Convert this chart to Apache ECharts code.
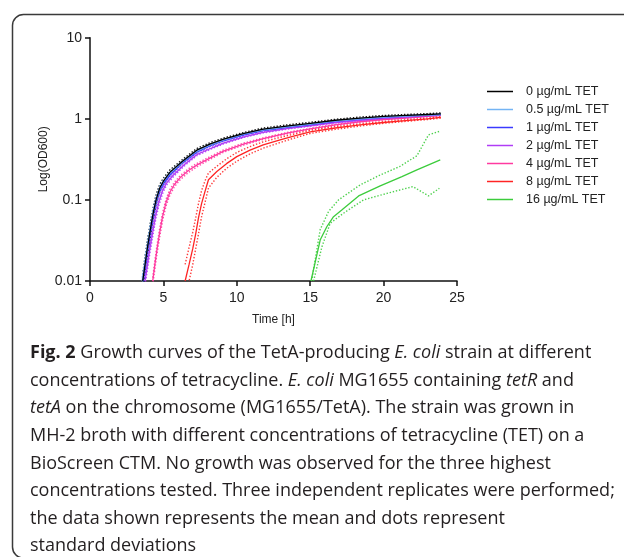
<!DOCTYPE html>
<html><head><meta charset="utf-8">
<script src="https://cdn.jsdelivr.net/npm/echarts@6/dist/echarts.min.js"></script>
<style>html,body{margin:0;padding:0;background:#fff}#c{width:624px;height:557px}</style>
</head><body><div id="c"></div>
<script>
// ---- data (time in h, OD600) ----
const names = ['0 µg/mL TET','0.5 µg/mL TET','1 µg/mL TET','2 µg/mL TET','4 µg/mL TET','8 µg/mL TET','16 µg/mL TET'];
const colors = ['#000000','#74b4f4','#3a3aff','#b03cf6','#ff3aa0','#ff2424','#3ccc3c'];
const xTicks = [0,5,10,15,20,25];
const yTicks = [0.01,0.1,1,10];

const t0 = [3.59,3.75,3.9,4.1,4.3,4.5,4.75,5.0,5.45,6.3,7.27,8.2,9.1,10.5,11.8,13.5,15,16.7,18.4,20,21.5,23,23.9];
const m0 = [0.01,0.016,0.025,0.042,0.068,0.1,0.14,0.17,0.22,0.3,0.41,0.49,0.56,0.66,0.745,0.82,0.88,0.96,1.02,1.07,1.1,1.13,1.15];
const u0 = [0.012,0.02,0.031,0.051,0.08,0.115,0.155,0.185,0.235,0.315,0.43,0.51,0.58,0.68,0.77,0.845,0.905,0.985,1.05,1.1,1.13,1.16,1.18];
const l0 = [0.008,0.013,0.02,0.034,0.057,0.087,0.126,0.156,0.205,0.285,0.39,0.47,0.54,0.64,0.72,0.795,0.855,0.935,0.99,1.04,1.07,1.1,1.12];

const t05 = [3.55,3.72,3.88,4.08,4.28,4.5,4.75,5.0,5.45,6.3,7.27,8.2,9.1,10.5,11.8,13.5,15,16.7,18.4,20,21.5,23,23.9];
const m05 = [0.01,0.016,0.025,0.042,0.068,0.1,0.138,0.168,0.215,0.295,0.4,0.48,0.55,0.65,0.73,0.8,0.86,0.94,1.0,1.05,1.08,1.11,1.13];
const u05 = [0.011,0.018,0.028,0.047,0.075,0.108,0.147,0.176,0.223,0.303,0.41,0.49,0.56,0.66,0.74,0.81,0.87,0.95,1.01,1.06,1.09,1.12,1.14];
const l05 = [0.009,0.014,0.022,0.037,0.061,0.092,0.129,0.16,0.207,0.287,0.39,0.47,0.54,0.64,0.72,0.79,0.85,0.93,0.99,1.04,1.07,1.1,1.12];

const t1 = [3.62,3.78,3.93,4.12,4.32,4.52,4.78,5.05,5.5,6.3,7.27,8.2,9.1,10.5,11.8,13.5,15,16.7,18.4,20,21.5,23,23.9];
const m1 = [0.01,0.016,0.025,0.041,0.066,0.097,0.135,0.165,0.21,0.29,0.39,0.47,0.54,0.64,0.72,0.79,0.85,0.93,0.99,1.04,1.08,1.11,1.13];
const u1 = [0.011,0.018,0.028,0.046,0.073,0.105,0.144,0.173,0.218,0.298,0.4,0.48,0.55,0.65,0.73,0.8,0.86,0.94,1.0,1.05,1.09,1.12,1.14];
const l1 = [0.009,0.014,0.022,0.036,0.059,0.089,0.126,0.157,0.202,0.282,0.38,0.46,0.53,0.63,0.71,0.78,0.84,0.92,0.98,1.03,1.07,1.1,1.12];

const t2 = [3.75,3.92,4.08,4.28,4.48,4.7,4.95,5.2,5.65,6.4,7.27,8.2,9.1,10.5,11.8,13.5,15,16.7,18.4,20,21.5,23,23.9];
const m2 = [0.01,0.016,0.025,0.041,0.065,0.095,0.13,0.16,0.2,0.27,0.36,0.43,0.5,0.6,0.68,0.76,0.82,0.9,0.96,1.01,1.05,1.09,1.11];
const u2 = [0.011,0.018,0.028,0.046,0.072,0.104,0.14,0.169,0.21,0.28,0.37,0.44,0.51,0.61,0.69,0.77,0.83,0.91,0.97,1.02,1.06,1.1,1.12];
const l2 = [0.009,0.014,0.022,0.036,0.058,0.086,0.12,0.151,0.19,0.26,0.35,0.42,0.49,0.59,0.67,0.75,0.81,0.89,0.95,1.0,1.04,1.08,1.1];

const t4 = [4.27,4.42,4.57,4.75,4.95,5.18,5.45,5.75,6.13,6.7,7.3,8.2,9.1,10.5,11.8,13.5,15,16.7,18.4,20,21.5,23,23.9];
const m4 = [0.01,0.016,0.025,0.04,0.063,0.093,0.125,0.155,0.187,0.23,0.27,0.33,0.4,0.49,0.57,0.67,0.75,0.84,0.92,0.98,1.02,1.07,1.1];
const u4 = [0.011,0.018,0.028,0.045,0.07,0.102,0.135,0.165,0.198,0.242,0.283,0.343,0.413,0.503,0.583,0.683,0.763,0.853,0.933,0.993,1.03,1.08,1.11];
const l4 = [0.009,0.014,0.022,0.035,0.056,0.084,0.115,0.145,0.176,0.218,0.257,0.317,0.387,0.477,0.557,0.657,0.737,0.827,0.907,0.967,1.01,1.06,1.09];

const t8 = [6.48,6.75,7.0,7.2,7.39,7.6,7.85,8.07,8.64,9.3,10,10.9,11.8,12.95,14,15,16.7,18.4,20,21.5,23,23.9];
const m8 = [0.01,0.016,0.025,0.038,0.06,0.09,0.13,0.177,0.224,0.28,0.342,0.41,0.477,0.55,0.62,0.69,0.77,0.84,0.9,0.95,1.0,1.04];
const u8 = [0.016,0.026,0.04,0.06,0.09,0.13,0.175,0.215,0.26,0.32,0.385,0.455,0.52,0.59,0.655,0.72,0.8,0.865,0.92,0.97,1.02,1.06];
const l8 = [0.006,0.01,0.016,0.025,0.038,0.062,0.095,0.14,0.19,0.245,0.3,0.37,0.435,0.51,0.585,0.66,0.74,0.815,0.88,0.93,0.98,1.02];

const t16 = [15.05,15.68,16.14,16.59,17.15,18.3,19.77,21.25,22.27,23.86];
const m16 = [0.01,0.032,0.047,0.062,0.075,0.112,0.149,0.194,0.235,0.312];
const t16u = [15.1,15.68,16.25,16.93,18.4,19.77,21.1,22.27,23.06,23.8];
const u16 = [0.01,0.043,0.072,0.1,0.153,0.203,0.258,0.35,0.634,0.7];
const t16l = [15.23,15.8,16.36,17.27,18.63,20.2,22.0,23.06,23.8];
const l16 = [0.01,0.0265,0.0515,0.0685,0.1,0.12,0.146,0.112,0.139];

const groups = [
  {t:t0, m:m0, u:u0, l:l0, tu:t0, tl:t0},
  {t:t05, m:m05, u:u05, l:l05, tu:t05, tl:t05},
  {t:t1, m:m1, u:u1, l:l1, tu:t1, tl:t1},
  {t:t2, m:m2, u:u2, l:l2, tu:t2, tl:t2},
  {t:t4, m:m4, u:u4, l:l4, tu:t4, tl:t4},
  {t:t8, m:m8, u:u8, l:l8, tu:t8, tl:t8},
  {t:t16, m:m16, u:u16, l:l16, tu:t16u, tl:t16l}
];

const captionLines = [
  '{b|Fig. 2} Growth curves of the TetA-producing {i|E. coli} strain at different',
  'concentrations of tetracycline. {i|E. coli} MG1655 containing {i|tetR} and',
  '{i|tetA} on the chromosome (MG1655/TetA). The strain was grown in',
  'MH-2 broth with different concentrations of tetracycline (TET) on a',
  'BioScreen CTM. No growth was observed for the three highest',
  'concentrations tested. Three independent replicates were performed;',
  'the data shown represents the mean and dots represent',
  'standard deviations'
];

const pair = (ts, vs) => ts.map((t, i) => [t, vs[i]]);
const series = [];
groups.forEach((g, k) => {
  const mk = () => ({type:'line', symbol:'none', silent:true, z:2, clip:true,
    lineStyle:{color:colors[k], width:1.4, type:[1.4,1.8], opacity:0.9}});
  series.push(Object.assign({name:'sdU'+k, data:pair(g.tu, g.u)}, mk()));
  series.push(Object.assign({name:'sdL'+k, data:pair(g.tl, g.l)}, mk()));
});
[6,5,4,3,2,1,0].forEach(k => {
  series.push({name:names[k], type:'line', symbol:'none', z:3, clip:true,
    data:pair(groups[k].t, groups[k].m),
    lineStyle:{color:colors[k], width:1.3}, itemStyle:{color:colors[k]}});
});

const FS = 18;
const graphics = [{type:'rect', shape:{x:12.5, y:14.5, width:660, height:543.5, r:11},
  style:{fill:'none', stroke:'#3a3a3a', lineWidth:1.5}, silent:true}];
captionLines.forEach((s, i) => {
  graphics.push({type:'text', left:30, top:344 + i*27.6, silent:true,
    style:{text:s, fill:'#231f20', font:FS + 'px "Open Sans"',
      rich:{b:{fontWeight:'bold', fontSize:FS, fontFamily:'Open Sans', fill:'#231f20'},
            i:{fontStyle:'italic', fontSize:FS, fontFamily:'Open Sans', fill:'#231f20'}}}});
});

const chart = echarts.init(document.getElementById('c'), null, {renderer:'canvas'});
chart.setOption({
  animation:false,
  backgroundColor:'#fff',
  textStyle:{fontFamily:'Liberation Sans, Arial, sans-serif'},
  grid:{left:90, right:167, top:37.7, bottom:276, containLabel:false},
  legend:{orient:'vertical', left:482, top:80, itemWidth:26, itemHeight:1.5, itemGap:5,
    icon:'rect', selectedMode:false, data:names,
    textStyle:{fontSize:12.5, color:'#222', padding:[0,0,0,8], fontFamily:'Liberation Sans, Arial'}},
  xAxis:{type:'value', min:0, max:25, interval:5,
    name:'Time [h]', nameLocation:'middle', nameGap:33, nameMoveOverlap:false,
    nameTextStyle:{fontSize:12, color:'#222'},
    axisLine:{lineStyle:{color:'#111', width:1.5}},
    axisTick:{show:true, length:5, lineStyle:{color:'#111', width:1.5}},
    axisLabel:{fontSize:14, color:'#222', margin:10},
    splitLine:{show:false}},
  yAxis:{type:'log', logBase:10, min:0.01, max:10,
    name:'Log(OD600)', nameLocation:'middle', nameGap:40, nameRotate:90, nameMoveOverlap:false,
    nameTextStyle:{fontSize:12, color:'#222'},
    axisLine:{show:true, lineStyle:{color:'#111', width:1.5}},
    axisTick:{show:true, length:5, lineStyle:{color:'#111', width:1.5}},
    axisLabel:{fontSize:14, color:'#222', margin:8,
      formatter: v => { const f = yTicks.find(t => Math.abs(t - v) / t < 1e-6); return f === undefined ? '' : String(f); }},
    minorTick:{show:false}, splitLine:{show:false}},
  graphic:graphics,
  series:series
});
</script></body></html>
